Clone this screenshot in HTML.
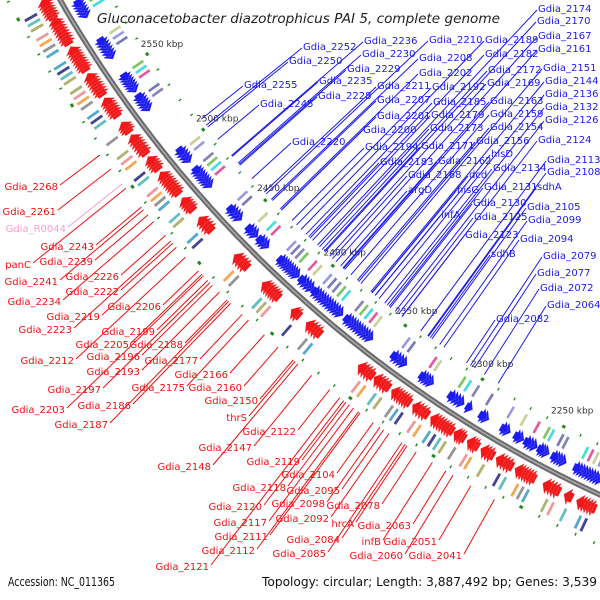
<!DOCTYPE html>
<html><head><meta charset="utf-8"><style>
html,body{margin:0;padding:0;background:#fff;}
svg{display:block;font-family:"DejaVu Sans","Liberation Sans",sans-serif;}
</style></head><body>
<svg id="map" width="600" height="600" viewBox="0 0 600 600" xmlns="http://www.w3.org/2000/svg">
<rect width="600" height="600" fill="#fff"/>
<g id="ticks"></g><g id="boxes"></g><g id="genes"></g><g id="backbone"></g><g id="lines"></g><g id="labels"></g>
<text x="97" y="23" font-size="13.5" font-style="italic" fill="#222" textLength="403" lengthAdjust="spacingAndGlyphs">Gluconacetobacter diazotrophicus PAI 5, complete genome</text>
<text x="8" y="586" font-size="12" fill="#111" textLength="107" lengthAdjust="spacingAndGlyphs">Accession: NC_011365</text>
<text x="262" y="586" font-size="12" fill="#111" textLength="335" lengthAdjust="spacingAndGlyphs">Topology: circular; Length: 3,887,492 bp; Genes: 3,539</text>
</svg>
<script>
const blueClusters=[[2586,2594],[2561,2571],[2540,2549],[2528,2536],[2494,2501],[2477,2488],[2454,2461],[2442,2447],[2434,2439],[2412,2424],[2402,2409],[2382,2400],[2362,2378],[2340,2347],[2323,2329],[2304,2311],[2299,2300],[2289,2292],[2276,2279],[2268,2271],[2260,2265],[2253,2257],[2243,2249],[2222,2236]];
const redClusters=[[2591,2600],[2576,2589],[2560,2572],[2545,2556],[2532,2541],[2522,2526],[2508,2518],[2498,2504],[2482,2494],[2471,2477],[2457,2464],[2431,2438],[2409,2418],[2395,2398],[2381,2388],[2347,2354],[2337,2344],[2324,2333],[2313,2320],[2298,2309],[2291,2295],[2283,2287],[2274,2279],[2263,2270],[2250,2259],[2236,2243],[2229,2231],[2216,2224]];
const kbpTicks=[2550,2500,2450,2400,2350,2300,2250];
const blueLabels=[["Gdia_2174",538,12],["Gdia_2170",537,24],["Gdia_2167",538,39],["Gdia_2161",538,52],["Gdia_2151",543,71],["Gdia_2144",545,84],["Gdia_2136",545,97],["Gdia_2132",545,110],["Gdia_2126",545,123],["Gdia_2124",538,143],["Gdia_2113",547,163],["Gdia_2108",547,175],["sdhA",537,190],["Gdia_2105",527,210],["Gdia_2099",528,223],["Gdia_2094",520,242],["Gdia_2079",543,259],["Gdia_2077",537,276],["Gdia_2072",540,291],["Gdia_2064",547,308],["Gdia_2082",496,322],["Gdia_2189",485,43],["Gdia_2182",485,57],["Gdia_2172",488,73],["Gdia_2169",487,86],["Gdia_2163",490,104],["Gdia_2159",490,117],["Gdia_2154",490,130],["Gdia_2156",476,144],["hisD",491,157],["Gdia_2134",493,171],["Gdia_2131",484,190],["Gdia_2130",473,206],["Gdia_2125",474,220],["Gdia_2123",465,238],["sdhB",491,257],["Gdia_2210",429,43],["Gdia_2208",419,61],["Gdia_2202",419,76],["Gdia_2192",432,90],["Gdia_2185",433,105],["Gdia_2179",431,118],["Gdia_2173",430,131],["Gdia_2171",421,149],["Gdia_2162",438,164],["dcd",469,178],["hisG",457,193],["infA",441,218],["Gdia_2194",365,150],["Gdia_2183",380,165],["Gdia_2168",408,178],["argD",408,193],["Gdia_2236",364,44],["Gdia_2230",362,57],["Gdia_2229",347,72],["Gdia_2211",377,89],["Gdia_2207",377,103],["Gdia_2201",377,119],["Gdia_2200",363,133],["Gdia_2252",303,50],["Gdia_2250",289,64],["Gdia_2235",319,84],["Gdia_2228",318,99],["Gdia_2255",244,88],["Gdia_2245",260,107],["Gdia_2220",292,145]];
const redLabels=[["Gdia_2268",58,190],["Gdia_2261",56,215],["Gdia_R0044",66,232],["Gdia_2243",94,250],["Gdia_2239",93,265],["panC",31,268],["Gdia_2241",58,285],["Gdia_2226",119,280],["Gdia_2222",119,295],["Gdia_2234",61,305],["Gdia_2206",161,310],["Gdia_2219",100,320],["Gdia_2223",72,333],["Gdia_2199",155,335],["Gdia_2205",129,348],["Gdia_2188",183,348],["Gdia_2212",74,364],["Gdia_2196",140,360],["Gdia_2177",198,364],["Gdia_2193",140,375],["Gdia_2166",228,378],["Gdia_2197",101,393],["Gdia_2175",185,391],["Gdia_2160",242,391],["Gdia_2203",65,413],["Gdia_2186",131,409],["Gdia_2150",258,404],["Gdia_2187",108,428],["thrS",247,421],["Gdia_2122",296,435],["Gdia_2147",252,451],["Gdia_2148",211,470],["Gdia_2119",300,465],["Gdia_2104",335,478],["Gdia_2118",286,491],["Gdia_2095",340,494],["Gdia_2098",325,507],["Gdia_2078",380,509],["Gdia_2120",262,510],["Gdia_2092",329,522],["hrcA",354,527],["Gdia_2117",267,526],["Gdia_2063",411,529],["Gdia_2111",268,540],["Gdia_2084",340,543],["infB",381,545],["Gdia_2051",437,545],["Gdia_2112",255,554],["Gdia_2085",326,557],["Gdia_2060",403,559],["Gdia_2041",462,559],["Gdia_2121",209,570]];
const palette=['#30d8d8','#8a8a8a','#6a6ab0','#a8a860','#e04890','#40a0c8','#7878a8','#e89090','#c8c890','#303088','#70c050','#f0a040','#9090d8','#50b8b8'];

const NS='http://www.w3.org/2000/svg';
const CX=1108.6,CY=-602,R=1209;
function P(k,r){const a=(131.8+(k-2400)*0.0926)*Math.PI/180;return [CX+r*Math.cos(a),CY+r*Math.sin(a)];}
function mk(tag,attrs,parent){const e=document.createElementNS(NS,tag);for(const k in attrs)e.setAttribute(k,attrs[k]);parent.appendChild(e);return e;}
function pts(a){return a.map(p=>p[0].toFixed(1)+','+p[1].toFixed(1)).join(' ');}
const gT=document.getElementById('ticks'),gB=document.getElementById('boxes'),gG=document.getElementById('genes'),gK=document.getElementById('backbone'),gL=document.getElementById('lines'),gX=document.getElementById('labels');

const bb=[];for(let k=2640;k>=2160;k-=2)bb.push(P(k,R));
let e=mk('polyline',{points:pts(bb),fill:'none',stroke:'#6a6a6a',"stroke-width":5.5},gK);


mk('polyline',{points:pts(bb),fill:'none',stroke:'#a8a8a8',"stroke-width":1.6},gK);

for(let k=2180;k<=2620;k+=10){
  const big=(k%50===0)?1.8:0.7;
  [R-45,R+46].forEach(r=>{
    const a=P(k-big/2,r),b=P(k+big/2,r);
    const t=mk('line',{x1:a[0],y1:a[1],x2:b[0],y2:b[1],stroke:'#1f8a1f',"stroke-width":3},gT);
    
    
  });
}
kbpTicks.forEach(k=>{
  const p=P(k,R-63);
  const t=mk('text',{x:p[0],y:p[1]+3,"font-size":9,fill:'#333',"text-anchor":'middle'},gT);
  t.textContent=k+' kbp';
  
  
});

function genes(clusters,strand){
  let gi=0;
  clusters.forEach(c=>{
    const s0=c[0],e0=c[1],n=Math.max(1,Math.round((e0-s0)/1.6));
    const L=(e0-s0)/n;
    for(let i=0;i<n;i++){
      const s=s0+i*L,en=s+L*0.9;
      let r1,r2,poly;
      const hl=3.2;
      if(strand>0){r1=R-20;r2=R-8;const rm=(r1+r2)/2;
        poly=[P(en,r1+2),P(s,r1+2),P(s,r1-2),P(s-hl,rm),P(s,r2+2),P(s,r2-2),P(en,r2-2)];}
      else{r1=R+8;r2=R+22;const rm=(r1+r2)/2;
        poly=[P(s,r1+2),P(en,r1+2),P(en,r1-2),P(en+hl,rm),P(en,r2+2),P(en,r2-2),P(s,r2-2)];}
      const g=mk('polygon',{points:pts(poly),fill:strand>0?'#1c1cf0':'#f01818',stroke:'#fff',"stroke-width":0.3,"stroke-opacity":0.5},gG);
      
      
      if(gi%2===0){
        const rr=strand>0?[R-38,R-25]:[R+27,R+41];
        const w=1.4;
        const bx=[P(s,rr[0]),P(s+w,rr[0]),P(s+w,rr[1]),P(s,rr[1])];
        const b=mk('polygon',{points:pts(bx),fill:palette[(gi*5+(strand>0?0:3))%palette.length],opacity:0.9},gB);
        
        
      }
      gi++;
    }
  });
}
genes(blueClusters,1);genes(redClusters,-1);

function label(l,col,blue){
  const t=mk('text',{x:l[1],y:l[2],"font-size":10,fill:col,"text-anchor":blue?'start':'end'},gX);
  t.textContent=l[0];
  
  
  const ax=blue?l[1]-1:l[1]+2, ay=blue?l[2]-2:l[2]-5;
  const dx=ax-CX,dy=ay-CY,d=Math.hypot(dx,dy);
  const rr=blue?R-50:R+52;
  const ex=CX+dx/d*rr,ey=CY+dy/d*rr;
  const ln=mk('line',{x1:ax,y1:ay,x2:ex,y2:ey,stroke:col,"stroke-width":1},gL);
  
  
}
blueLabels.forEach(l=>label(l,'#1a1aee',true));
redLabels.forEach(l=>label(l,l[0]==='Gdia_R0044'?'#f4a0d0':'#ee1111',false));
</script>
</body></html>
